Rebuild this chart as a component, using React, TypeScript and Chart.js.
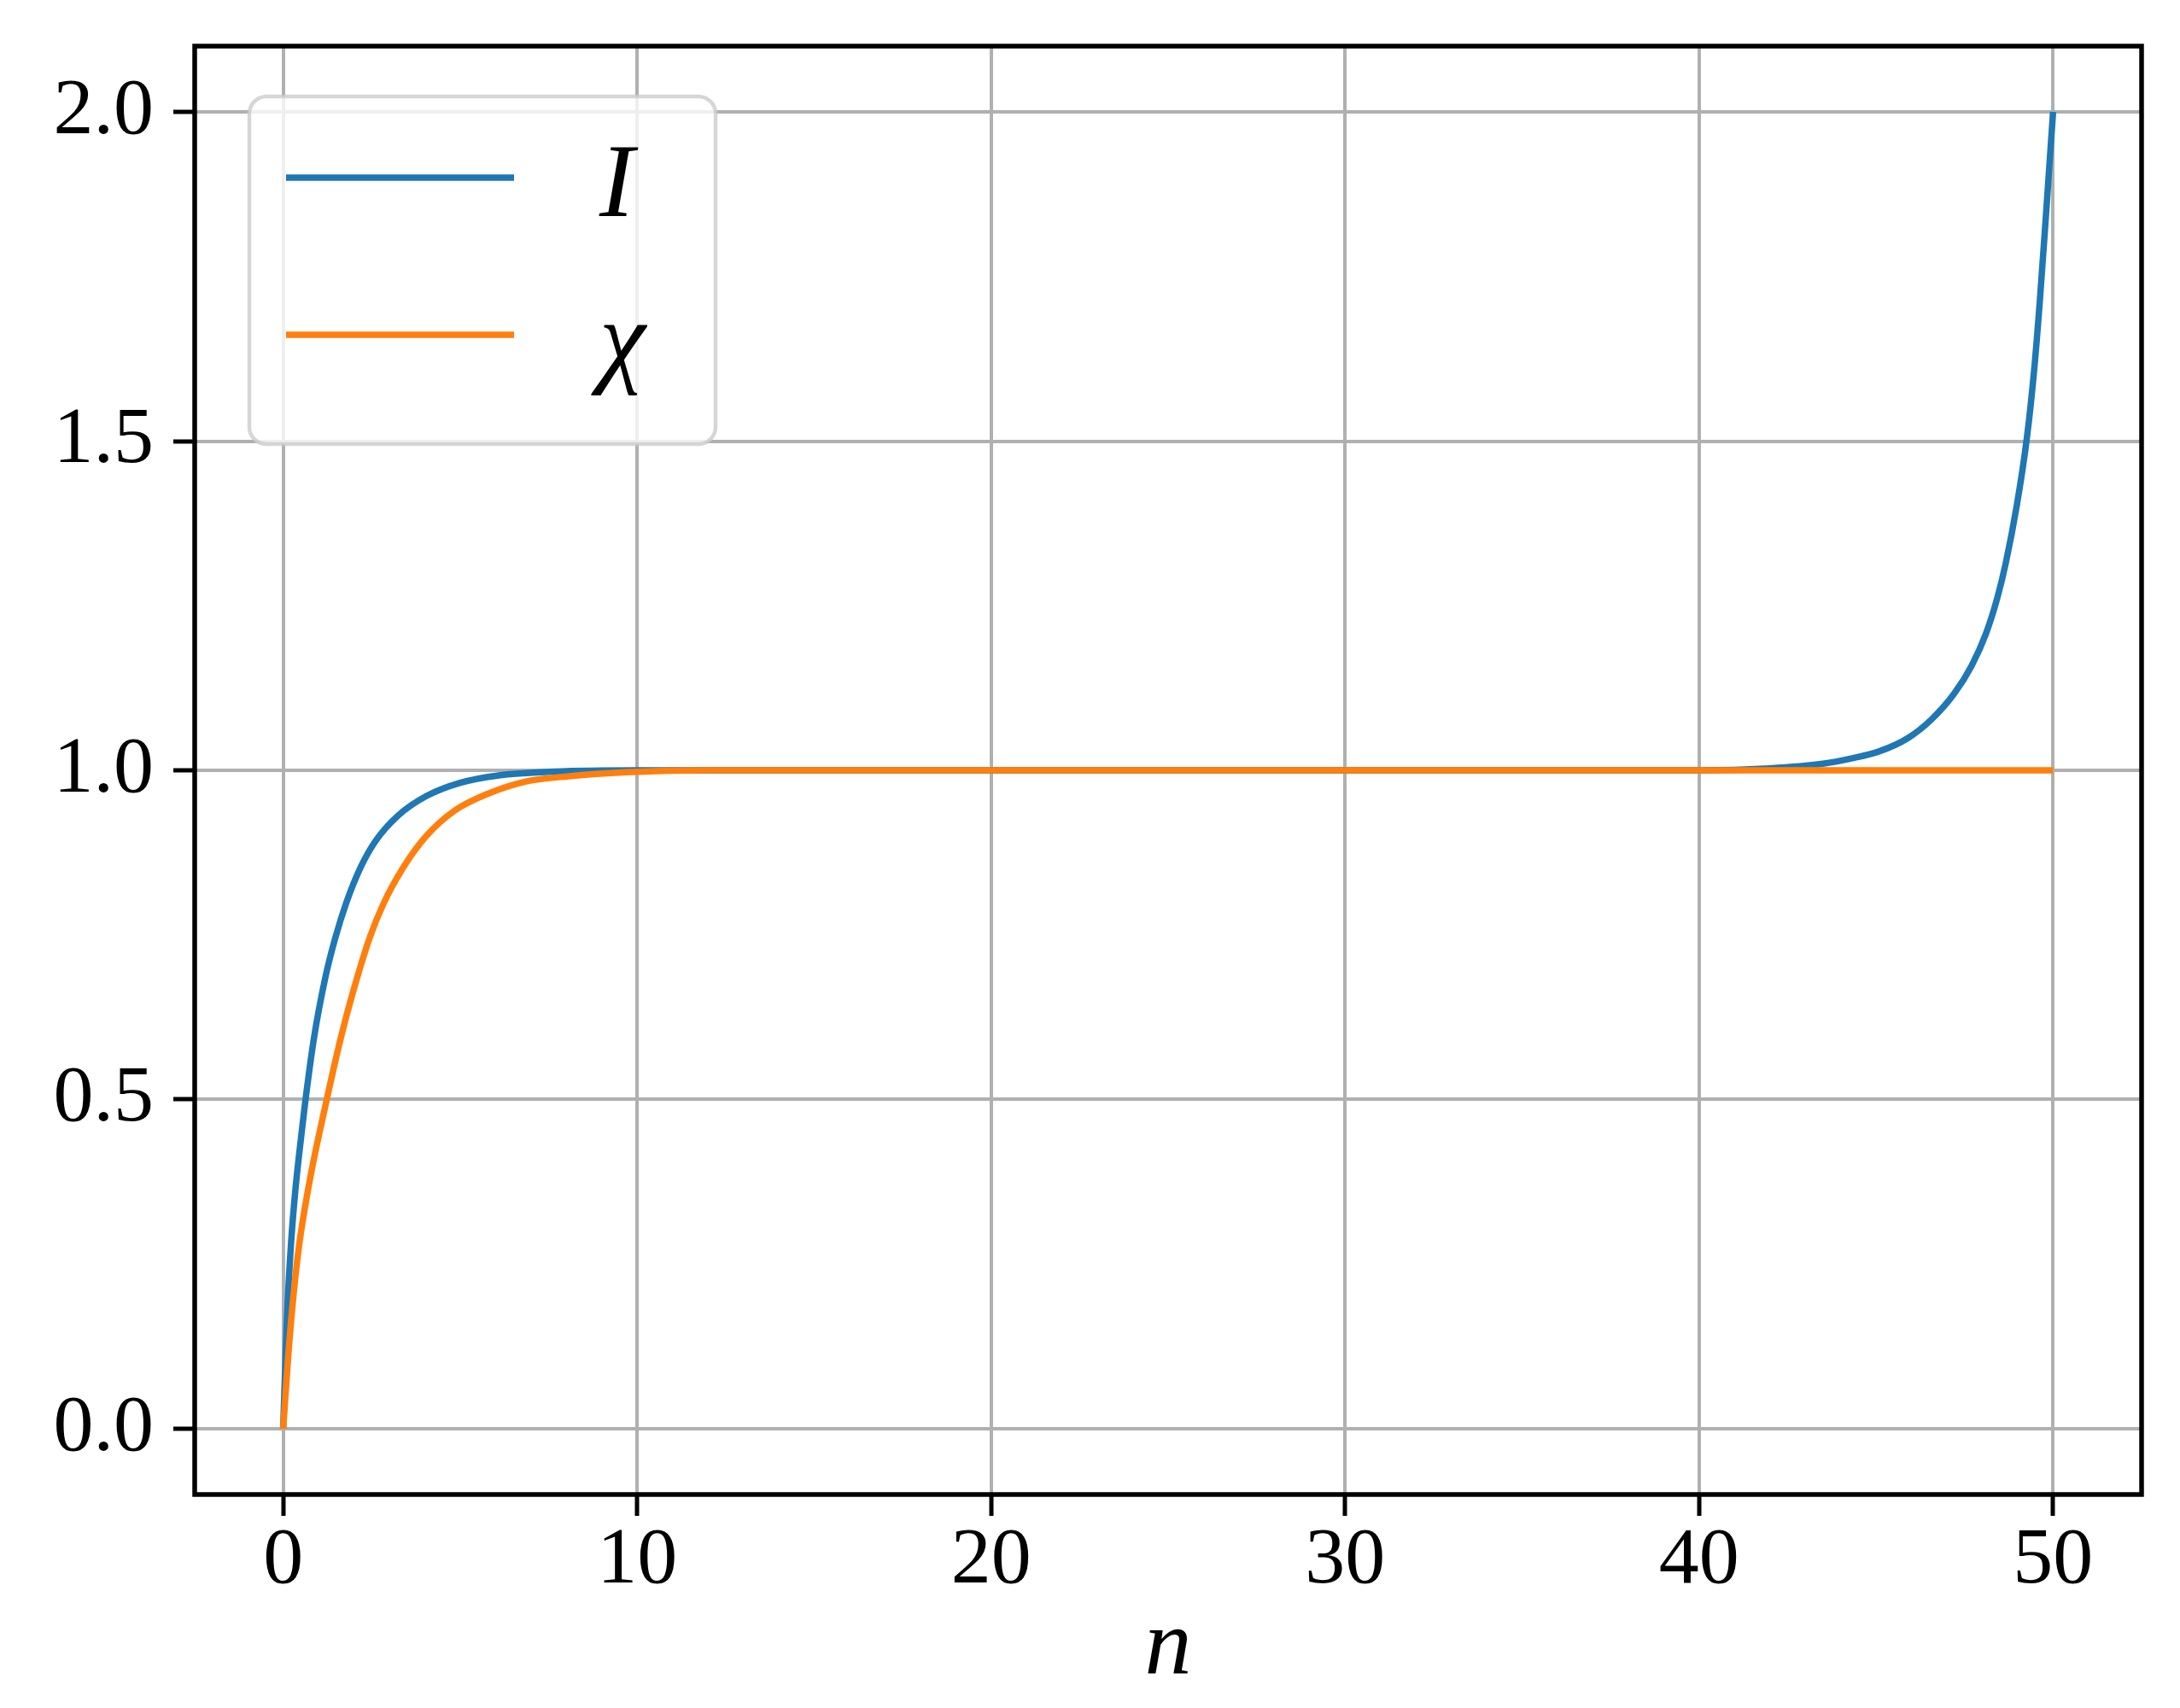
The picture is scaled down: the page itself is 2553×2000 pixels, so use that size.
import { useEffect, useRef } from "react";
import { Chart, registerables } from "chart.js";

Chart.register(...registerables);

// I(n)
const iN = [0, 0.1, 0.22, 0.34, 0.5, 0.62, 0.86, 1.19, 1.47, 1.79, 2.19, 2.6, 3.24, 4.05, 5.0, 6.05, 7.66, 10, 20, 30, 40, 42, 43.5, 44.3, 45.1, 45.9, 46.56, 47.2, 47.7, 48.1, 48.42, 48.66, 48.98, 49.26, 49.46, 49.62, 49.8, 50];
const iValues = [0, 0.16, 0.28, 0.36, 0.44, 0.495, 0.59, 0.685, 0.745, 0.8, 0.853, 0.892, 0.931, 0.961, 0.981, 0.992, 0.998, 1, 1, 1, 1, 1.003, 1.01, 1.018, 1.029, 1.049, 1.077, 1.116, 1.159, 1.207, 1.261, 1.314, 1.404, 1.505, 1.605, 1.709, 1.844, 2.0];

// chi(n)
const chiN = [0, 0.18, 0.42, 0.74, 1.19, 1.63, 1.95, 2.44, 2.83, 3.4, 4.04, 4.85, 5.81, 6.86, 8.07, 9.67, 12, 20, 30, 40, 50];
const chiValues = [0, 0.136, 0.266, 0.374, 0.49, 0.594, 0.659, 0.745, 0.797, 0.853, 0.9, 0.939, 0.965, 0.983, 0.991, 0.997, 1, 1, 1, 1, 1];

const seriesLabels = ["I", "χ"];
const seriesColors = ["#1f77b4", "#ff7f0e"];

const SERIF = "'Liberation Serif', 'Times New Roman', serif";

// spines on top of the lines, like matplotlib
const framePlugin = {
  id: "frame",
  afterDatasetsDraw(chart: any) {
    const { ctx, chartArea } = chart;
    ctx.save();
    ctx.strokeStyle = "#000";
    ctx.lineWidth = 5.5;
    ctx.lineJoin = "miter";
    ctx.strokeRect(chartArea.left, chartArea.top, chartArea.right - chartArea.left, chartArea.bottom - chartArea.top);
    ctx.restore();
  },
};

// matplotlib style legend box in the upper left
const legendPlugin = {
  id: "mplLegend",
  afterDraw(chart: any) {
    const { ctx } = chart;
    const box = { x: 292, y: 113, w: 546, h: 407, r: 20 };
    ctx.save();
    ctx.beginPath();
    ctx.roundRect(box.x, box.y, box.w, box.h, box.r);
    ctx.fillStyle = "rgba(255,255,255,0.8)";
    ctx.fill();
    ctx.lineWidth = 4.5;
    ctx.strokeStyle = "rgba(204,204,204,0.8)";
    ctx.stroke();

    const rows = [208, 392];
    chart.data.datasets.forEach((ds: any, i: number) => {
      const y = rows[i];
      ctx.beginPath();
      ctx.moveTo(335, y);
      ctx.lineTo(602, y);
      ctx.lineWidth = 7.5;
      ctx.lineCap = "butt";
      ctx.strokeStyle = ds.borderColor;
      ctx.stroke();
      ctx.fillStyle = "#000";
      ctx.font = `italic 122px ${SERIF}`;
      ctx.textBaseline = "alphabetic";
      ctx.textAlign = "left";
      ctx.fillText(ds.label, 702, y + 45);
    });
    ctx.restore();
  },
};

const App = () => {
  const chartRef = useRef<HTMLCanvasElement>(null);

  useEffect(() => {
    document.body.style.margin = "0";
    if (!chartRef.current) return;
    const ctx = chartRef.current.getContext("2d");
    if (!ctx) return;

    const tickFont = { family: SERIF, size: 94, lineHeight: 1 };

    const chart = new Chart(ctx, {
      type: "line",
      data: {
        datasets: [
          {
            label: seriesLabels[0],
            data: iN.map((x, k) => ({ x, y: iValues[k] })),
            borderColor: seriesColors[0],
            backgroundColor: seriesColors[0],
            borderWidth: 7.5,
            pointRadius: 0,
            cubicInterpolationMode: "monotone",
            order: 1,
          },
          {
            label: seriesLabels[1],
            data: chiN.map((x, k) => ({ x, y: chiValues[k] })),
            borderColor: seriesColors[1],
            backgroundColor: seriesColors[1],
            borderWidth: 7.5,
            pointRadius: 0,
            cubicInterpolationMode: "monotone",
            order: 0,
          },
        ],
      },
      options: {
        animation: false,
        responsive: false,
        devicePixelRatio: 1,
        layout: { padding: { top: 54, right: 45, left: 0, bottom: 0 } },
        plugins: {
          legend: { display: false },
          tooltip: { enabled: false },
        },
        scales: {
          x: {
            type: "linear",
            min: -2.5,
            max: 52.5,
            border: { display: false },
            grid: {
              color: "#b0b0b0",
              lineWidth: 4,
              drawTicks: true,
              tickLength: 25,
              tickColor: "#000",
              tickWidth: 5,
            },
            ticks: {
              stepSize: 10,
              includeBounds: false,
              color: "#000",
              font: tickFont,
              padding: 6,
              maxRotation: 0,
              callback: (v: any) => String(v),
            },
            title: {
              display: true,
              text: "n",
              color: "#000",
              font: { family: SERIF, size: 110, style: "italic" },
              padding: { top: 0, bottom: 3 },
            },
            afterFit: (scale: any) => {
              scale.height = 250;
              scale.paddingLeft = 0;
              scale.paddingRight = 0;
            },
          },
          y: {
            type: "linear",
            min: -0.1,
            max: 2.1,
            border: { display: false },
            grid: {
              color: "#b0b0b0",
              lineWidth: 4,
              drawTicks: true,
              tickLength: 25,
              tickColor: "#000",
              tickWidth: 5,
            },
            ticks: {
              stepSize: 0.5,
              includeBounds: false,
              color: "#000",
              font: tickFont,
              padding: 23,
              callback: (v: any) => Number(v).toFixed(1),
            },
            afterFit: (scale: any) => {
              scale.width = 228;
              scale.paddingTop = 0;
              scale.paddingBottom = 0;
            },
          },
        },
      },
      plugins: [framePlugin, legendPlugin],
    });

    return () => chart.destroy();
  }, []);

  return (
    <div style={{ width: 2553, height: 2000 }}>
      <canvas ref={chartRef} width={2553} height={2000} style={{ display: "block" }}></canvas>
    </div>
  );
};

export default App;
